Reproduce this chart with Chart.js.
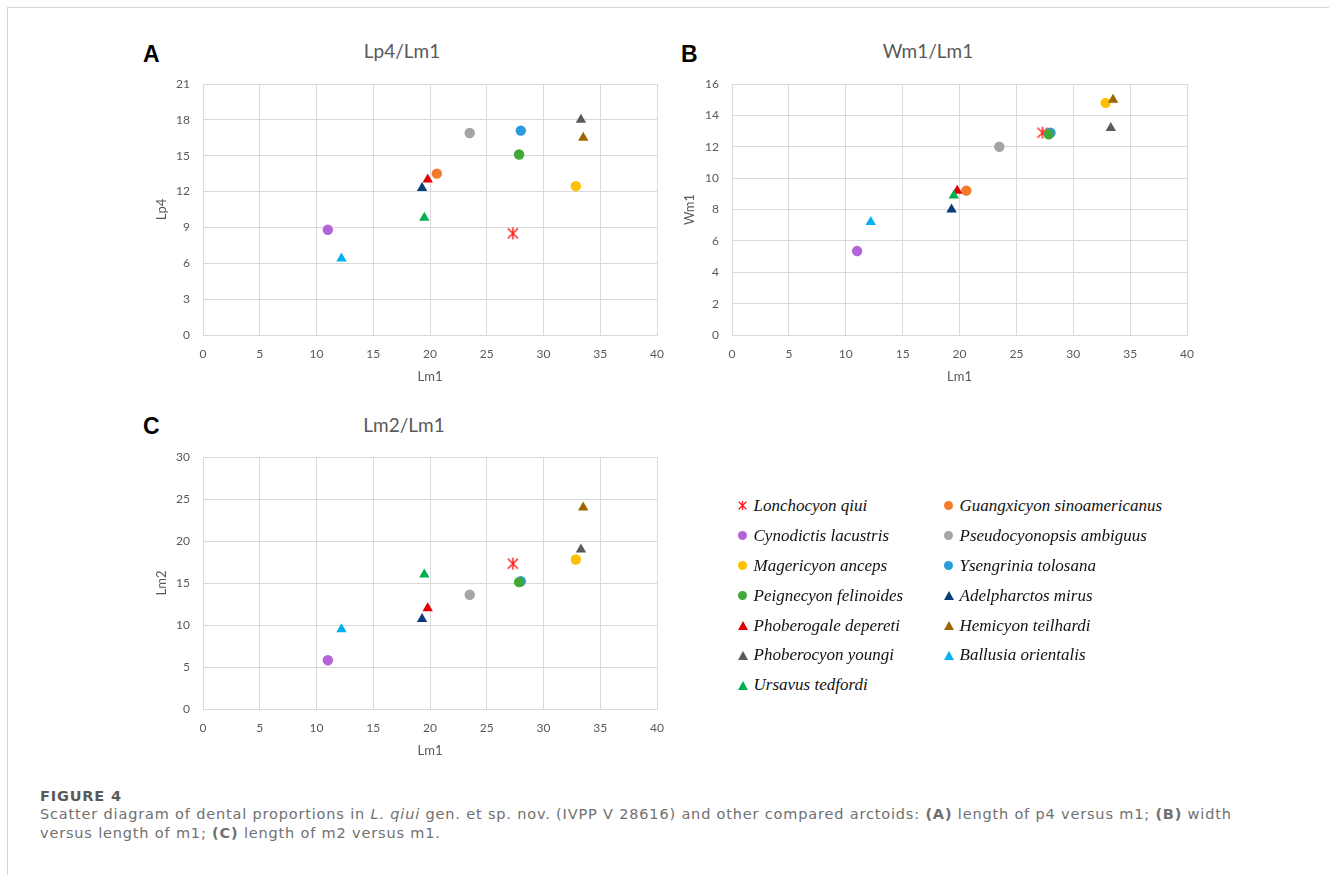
<!DOCTYPE html>
<html>
<head>
<meta charset="utf-8">
<script src="https://cdn.jsdelivr.net/npm/chart.js@4.4.1/dist/chart.umd.min.js"></script>
<style>
  body { margin:0; background:#fff; width:1329px; height:875px; overflow:hidden; position:relative; }
  .frame { position:absolute; left:7px; top:7px; width:1340px; height:900px; border-left:1px solid #d6d6d6; border-top:1px solid #d6d6d6; }
  canvas.panel { position:absolute; }
  .letter { position:absolute; font-family:"Liberation Sans", Arial, sans-serif; font-weight:bold; font-size:23px; line-height:23px; color:#000; }
  .ttl { position:absolute; font-family:Lato, sans-serif; font-size:19px; line-height:1.2; color:#595959; transform:translateX(-50%); white-space:nowrap; }
  .lgtext { position:absolute; font-family:"Liberation Serif", "Times New Roman", serif; font-style:italic; font-size:17px; line-height:20px; color:#111; white-space:nowrap; }
  .lgmark { position:absolute; }
  .caption { position:absolute; left:40px; top:787px; font-family:"DejaVu Sans", sans-serif; font-size:14.5px; line-height:18.3px; color:#707070; white-space:nowrap; }
  .caption .fig { color:#5a5a5a; font-weight:bold; }
</style>
</head>
<body>
<div class="frame"></div>

<div class="letter" style="left:143px; top:43px;">A</div>
<div class="letter" style="left:681px; top:43px;">B</div>
<div class="letter" style="left:143px; top:415px;">C</div>

<div class="ttl" style="left:402px; top:39.5px;">Lp4/Lm1</div>
<div class="ttl" style="left:928px; top:39.5px;">Wm1/Lm1</div>
<div class="ttl" style="left:404px; top:413.5px;">Lm2/Lm1</div>

<canvas id="chartA" class="panel" width="552" height="336" style="left:130px; top:54px; width:552px; height:336px;"></canvas>
<canvas id="chartB" class="panel" width="552" height="336" style="left:660px; top:54px; width:552px; height:336px;"></canvas>
<canvas id="chartC" class="panel" width="552" height="337" style="left:130px; top:427px; width:552px; height:337px;"></canvas>

<div id="legend"></div>

<div class="caption" id="caption">
  <span class="fig">FIGURE 4</span><br>
  <span id="capLine1">Scatter diagram of dental proportions in <i>L. qiui</i> gen. et sp. nov. (IVPP V 28616) and other compared arctoids: <b>(A)</b> length of p4 versus m1; <b>(B)</b> width</span><br>
  versus length of m1; <b>(C)</b> length of m2 versus m1.
</div>

<script>
// species in legend order (row by row)
const species = [
  'Lonchocyon qiui', 'Guangxicyon sinoamericanus',
  'Cynodictis lacustris', 'Pseudocyonopsis ambiguus',
  'Magericyon anceps', 'Ysengrinia tolosana',
  'Peignecyon felinoides', 'Adelpharctos mirus',
  'Phoberogale depereti', 'Hemicyon teilhardi',
  'Phoberocyon youngi', 'Ballusia orientalis',
  'Ursavus tedfordi'
];
const lm1 = [27.3, 20.6, 11.0, 23.5, 32.85, 28.0, 27.85, 19.3, 19.8, 33.5, 33.3, 12.2, 19.5];
const lp4 = [8.5, 13.5, 8.8, 16.9, 12.45, 17.1, 15.1, 12.3, 13.0, 16.5, 18.0, 6.4, 9.8];
const wm1 = [12.9, 9.2, 5.35, 12.0, 14.8, 12.9, 12.8, 8.0, 9.2, 15.0, 13.2, 7.2, 8.9];
const lm2 = [17.3, null, 5.8, 13.6, 17.8, 15.2, 15.1, 10.7, 12.0, 24.0, 19.0, 9.5, 16.0];

const xTicks = { min: 0, max: 40, step: 5 };
const yTicksA = { min: 0, max: 21, step: 3 };
const yTicksB = { min: 0, max: 16, step: 2 };
const yTicksC = { min: 0, max: 30, step: 5 };

// marker styles
const colors = ['#ff1a1a', '#f47b2c', '#b264d8', '#a5a5a5', '#ffc000', '#2b9ad8', '#42a83a',
                '#0a3d78', '#e10000', '#9c6500', '#5a5a5a', '#00b0f0', '#00b050'];
const shapes = ['star', 'circle', 'circle', 'circle', 'circle', 'circle', 'circle',
                'triangle', 'triangle', 'triangle', 'triangle', 'triangle', 'triangle'];

function starMarker(size, color, lw) {
  const c = document.createElement('canvas');
  c.width = size; c.height = size;
  const g = c.getContext('2d');
  const m = size / 2, r = size / 2 - 1;
  g.strokeStyle = color;
  g.lineWidth = lw;
  g.beginPath();
  g.moveTo(m - r * 0.85, m - r * 0.85); g.lineTo(m + r * 0.85, m + r * 0.85);
  g.moveTo(m + r * 0.85, m - r * 0.85); g.lineTo(m - r * 0.85, m + r * 0.85);
  g.moveTo(m, m - r); g.lineTo(m, m + r);
  g.stroke();
  return c;
}
const starImg = starMarker(14, colors[0], 1.4);

function makeSets(yVals) {
  return species.map((name, i) => ({
    label: name,
    data: yVals[i] == null ? [] : [{ x: lm1[i], y: yVals[i] }],
    pointStyle: shapes[i] === 'star' ? starImg : shapes[i],
    pointRadius: shapes[i] === 'triangle' ? 6 : 5.2,
    backgroundColor: colors[i],
    borderColor: colors[i],
    borderWidth: 0,
    order: species.length - i
  }));
}

const gridCol = '#d9d9d9';
const tickFont = { family: 'Lato', size: 12 };

function makeChart(id, yVals, yt, yTitle, padLeft, yWidth) {
  const ctx = document.getElementById(id).getContext('2d');
  return new Chart(ctx, {
    type: 'scatter',
    data: { datasets: makeSets(yVals) },
    options: {
      responsive: false,
      animation: false,
      events: [],
      layout: { padding: { left: padLeft, top: 30, right: 25, bottom: 5 } },
      plugins: { legend: { display: false }, tooltip: { enabled: false }, title: { display: false } },
      scales: {
        x: {
          type: 'linear', min: xTicks.min, max: xTicks.max,
          ticks: { stepSize: xTicks.step, color: '#595959', font: tickFont, padding: 12, maxRotation: 0 },
          grid: { color: gridCol, drawTicks: false },
          border: { color: gridCol },
          title: { display: true, text: 'Lm1', color: '#595959', font: { family: 'Lato', size: 13 }, padding: 0 },
          afterFit: s => { s.height = 50; }
        },
        y: {
          type: 'linear', min: yt.min, max: yt.max,
          ticks: { stepSize: yt.step, color: '#595959', font: tickFont, padding: 13 },
          grid: { color: gridCol, drawTicks: false },
          border: { color: gridCol },
          title: { display: true, text: yTitle, color: '#595959', font: { family: 'Lato', size: 13 }, padding: 0 },
          afterFit: s => { s.width = yWidth; }
        }
      }
    }
  });
}

// legend, two columns, filled row by row
function buildLegend() {
  const legend = document.getElementById('legend');
  const colMark = [742.5, 948.5];
  const colText = [753.5, 959.5];
  species.forEach((name, i) => {
    const col = i % 2, row = Math.floor(i / 2);
    const baseline = 511.7 + row * 29.9;
    const cy = baseline - 6;
    const t = document.createElement('div');
    t.className = 'lgtext';
    t.style.left = colText[col] + 'px';
    t.style.top = (baseline - 15.75) + 'px';
    t.textContent = name;
    legend.appendChild(t);

    let m;
    if (shapes[i] === 'star') {
      m = starMarker(11, colors[i], 1.3);
      m.style.width = '11px'; m.style.height = '11px';
      m.style.left = (colMark[col] - 5.5) + 'px';
      m.style.top = (cy - 5.5) + 'px';
    } else if (shapes[i] === 'circle') {
      m = document.createElement('div');
      m.style.width = '9px'; m.style.height = '9px';
      m.style.borderRadius = '50%';
      m.style.background = colors[i];
      m.style.left = (colMark[col] - 4.5) + 'px';
      m.style.top = (cy - 4.5) + 'px';
    } else {
      m = document.createElement('div');
      m.style.width = '0'; m.style.height = '0';
      m.style.borderLeft = '5px solid transparent';
      m.style.borderRight = '5px solid transparent';
      m.style.borderBottom = '9px solid ' + colors[i];
      m.style.left = (colMark[col] - 5) + 'px';
      m.style.top = (cy - 4.5) + 'px';
    }
    m.className = 'lgmark';
    legend.appendChild(m);
  });
}

// stretch the caption so its first line ends where the original does
function fitCaption() {
  const line = document.getElementById('capLine1');
  const w = line.getBoundingClientRect().width;
  const n = line.textContent.length;
  const ls = (1192 - w) / n;
  document.getElementById('caption').style.letterSpacing = ls.toFixed(2) + 'px';
}

buildLegend();
Promise.all([
  document.fonts.load('12px Lato'),
  document.fonts.load('13px Lato'),
  document.fonts.load('19px Lato'),
  document.fonts.load('14.5px "DejaVu Sans"')
]).catch(() => {}).then(() => {
  fitCaption();
  makeChart('chartA', lp4, yTicksA, 'Lp4', 24, 49);
  makeChart('chartB', wm1, yTicksB, 'Wm1', 22, 50);
  makeChart('chartC', lm2, yTicksC, 'Lm2', 24, 49);
});
</script>
</body>
</html>
